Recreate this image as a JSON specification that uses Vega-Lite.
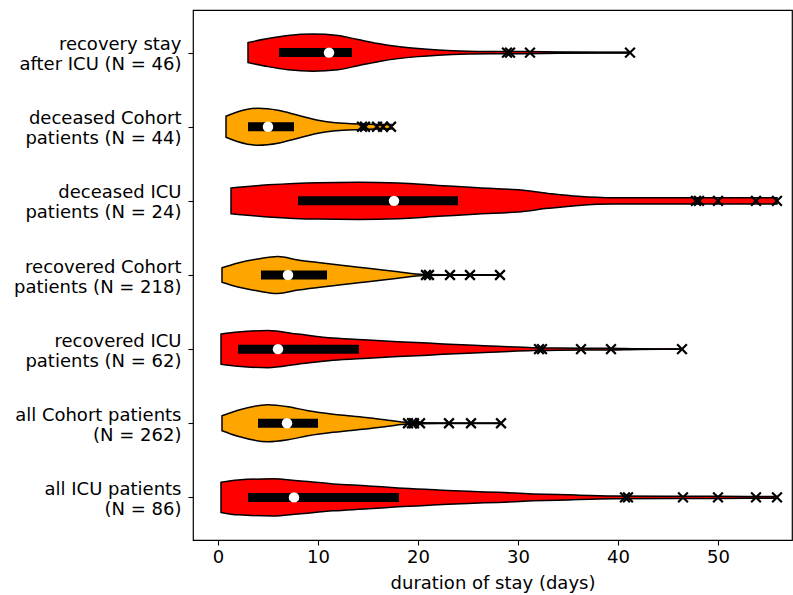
{
  "$schema": "https://vega.github.io/schema/vega-lite/v6.json",
  "width": 599,
  "height": 530,
  "autosize": "none",
  "padding": {"left": 193, "top": 10, "right": 1, "bottom": 55},
  "background": "white",
  "config": {
    "view": {"stroke": "black", "strokeWidth": 1.2},
    "font": "DejaVu Sans",
    "axis": {"labelFont": "DejaVu Sans", "titleFont": "DejaVu Sans", "labelColor": "black", "titleColor": "black", "tickColor": "black", "domain": false, "grid": false, "tickSize": 5, "tickWidth": 1.1, "labelFontSize": 18, "titleFontSize": 18, "titleFontWeight": "normal"}
  },
  "datasets": {
    "violin": [
      {"g": 7, "kind": "ICU", "x": 3.0, "lo": 6.865, "hi": 7.135},
      {"g": 7, "kind": "ICU", "x": 5, "lo": 6.811, "hi": 7.189},
      {"g": 7, "kind": "ICU", "x": 7, "lo": 6.770, "hi": 7.230},
      {"g": 7, "kind": "ICU", "x": 9.5, "lo": 6.75, "hi": 7.25},
      {"g": 7, "kind": "ICU", "x": 12, "lo": 6.770, "hi": 7.230},
      {"g": 7, "kind": "ICU", "x": 14, "lo": 6.824, "hi": 7.176},
      {"g": 7, "kind": "ICU", "x": 16, "lo": 6.878, "hi": 7.122},
      {"g": 7, "kind": "ICU", "x": 18, "lo": 6.919, "hi": 7.081},
      {"g": 7, "kind": "ICU", "x": 20, "lo": 6.946, "hi": 7.054},
      {"g": 7, "kind": "ICU", "x": 22, "lo": 6.965, "hi": 7.035},
      {"g": 7, "kind": "ICU", "x": 25, "lo": 6.980, "hi": 7.020},
      {"g": 7, "kind": "ICU", "x": 28, "lo": 6.984, "hi": 7.016},
      {"g": 7, "kind": "ICU", "x": 31, "lo": 6.986, "hi": 7.014},
      {"g": 7, "kind": "ICU", "x": 34, "lo": 6.992, "hi": 7.008},
      {"g": 7, "kind": "ICU", "x": 38, "lo": 6.995, "hi": 7.005},
      {"g": 7, "kind": "ICU", "x": 41.2, "lo": 6.996, "hi": 7.004},

      {"g": 6, "kind": "Cohort", "x": 0.8, "lo": 5.858, "hi": 6.142},
      {"g": 6, "kind": "Cohort", "x": 2, "lo": 5.797, "hi": 6.203},
      {"g": 6, "kind": "Cohort", "x": 4, "lo": 5.75, "hi": 6.25},
      {"g": 6, "kind": "Cohort", "x": 6, "lo": 5.777, "hi": 6.223},
      {"g": 6, "kind": "Cohort", "x": 8, "lo": 5.845, "hi": 6.155},
      {"g": 6, "kind": "Cohort", "x": 10, "lo": 5.912, "hi": 6.088},
      {"g": 6, "kind": "Cohort", "x": 11.5, "lo": 5.942, "hi": 6.058},
      {"g": 6, "kind": "Cohort", "x": 13, "lo": 5.957, "hi": 6.043},
      {"g": 6, "kind": "Cohort", "x": 15, "lo": 5.965, "hi": 6.035},
      {"g": 6, "kind": "Cohort", "x": 17.3, "lo": 5.969, "hi": 6.031},

      {"g": 5, "kind": "ICU", "x": 1.3, "lo": 4.827, "hi": 5.173},
      {"g": 5, "kind": "ICU", "x": 5, "lo": 4.784, "hi": 5.216},
      {"g": 5, "kind": "ICU", "x": 10, "lo": 4.754, "hi": 5.246},
      {"g": 5, "kind": "ICU", "x": 14, "lo": 4.75, "hi": 5.25},
      {"g": 5, "kind": "ICU", "x": 18, "lo": 4.759, "hi": 5.241},
      {"g": 5, "kind": "ICU", "x": 22, "lo": 4.791, "hi": 5.209},
      {"g": 5, "kind": "ICU", "x": 26, "lo": 4.824, "hi": 5.176},
      {"g": 5, "kind": "ICU", "x": 30, "lo": 4.851, "hi": 5.149},
      {"g": 5, "kind": "ICU", "x": 33, "lo": 4.899, "hi": 5.101},
      {"g": 5, "kind": "ICU", "x": 36, "lo": 4.939, "hi": 5.061},
      {"g": 5, "kind": "ICU", "x": 39.5, "lo": 4.959, "hi": 5.041},
      {"g": 5, "kind": "ICU", "x": 43, "lo": 4.959, "hi": 5.041},
      {"g": 5, "kind": "ICU", "x": 50, "lo": 4.959, "hi": 5.041},
      {"g": 5, "kind": "ICU", "x": 55.9, "lo": 4.959, "hi": 5.041},

      {"g": 4, "kind": "Cohort", "x": 0.4, "lo": 3.903, "hi": 4.097},
      {"g": 4, "kind": "Cohort", "x": 2, "lo": 3.838, "hi": 4.162},
      {"g": 4, "kind": "Cohort", "x": 4, "lo": 3.784, "hi": 4.216},
      {"g": 4, "kind": "Cohort", "x": 6, "lo": 3.75, "hi": 4.25},
      {"g": 4, "kind": "Cohort", "x": 8, "lo": 3.797, "hi": 4.203},
      {"g": 4, "kind": "Cohort", "x": 10, "lo": 3.831, "hi": 4.169},
      {"g": 4, "kind": "Cohort", "x": 11.5, "lo": 3.854, "hi": 4.146},
      {"g": 4, "kind": "Cohort", "x": 13, "lo": 3.878, "hi": 4.122},
      {"g": 4, "kind": "Cohort", "x": 15, "lo": 3.909, "hi": 4.091},
      {"g": 4, "kind": "Cohort", "x": 18, "lo": 3.957, "hi": 4.043},
      {"g": 4, "kind": "Cohort", "x": 20.5, "lo": 3.993, "hi": 4.007},
      {"g": 4, "kind": "Cohort", "x": 24, "lo": 3.996, "hi": 4.004},
      {"g": 4, "kind": "Cohort", "x": 28.2, "lo": 3.997, "hi": 4.003},

      {"g": 3, "kind": "ICU", "x": 0.3, "lo": 2.797, "hi": 3.203},
      {"g": 3, "kind": "ICU", "x": 2, "lo": 2.770, "hi": 3.230},
      {"g": 3, "kind": "ICU", "x": 5, "lo": 2.75, "hi": 3.25},
      {"g": 3, "kind": "ICU", "x": 8, "lo": 2.797, "hi": 3.203},
      {"g": 3, "kind": "ICU", "x": 11.5, "lo": 2.851, "hi": 3.149},
      {"g": 3, "kind": "ICU", "x": 15, "lo": 2.878, "hi": 3.122},
      {"g": 3, "kind": "ICU", "x": 18, "lo": 2.899, "hi": 3.101},
      {"g": 3, "kind": "ICU", "x": 21, "lo": 2.919, "hi": 3.081},
      {"g": 3, "kind": "ICU", "x": 25, "lo": 2.946, "hi": 3.054},
      {"g": 3, "kind": "ICU", "x": 28, "lo": 2.962, "hi": 3.038},
      {"g": 3, "kind": "ICU", "x": 31.5, "lo": 2.980, "hi": 3.020},
      {"g": 3, "kind": "ICU", "x": 34, "lo": 2.986, "hi": 3.014},
      {"g": 3, "kind": "ICU", "x": 39.4, "lo": 2.989, "hi": 3.011},
      {"g": 3, "kind": "ICU", "x": 42, "lo": 2.996, "hi": 3.004},
      {"g": 3, "kind": "ICU", "x": 46.4, "lo": 2.997, "hi": 3.003},

      {"g": 2, "kind": "Cohort", "x": 0.4, "lo": 1.899, "hi": 2.101},
      {"g": 2, "kind": "Cohort", "x": 2, "lo": 1.824, "hi": 2.176},
      {"g": 2, "kind": "Cohort", "x": 5, "lo": 1.75, "hi": 2.25},
      {"g": 2, "kind": "Cohort", "x": 7, "lo": 1.777, "hi": 2.223},
      {"g": 2, "kind": "Cohort", "x": 9, "lo": 1.831, "hi": 2.169},
      {"g": 2, "kind": "Cohort", "x": 11.5, "lo": 1.878, "hi": 2.122},
      {"g": 2, "kind": "Cohort", "x": 13, "lo": 1.899, "hi": 2.101},
      {"g": 2, "kind": "Cohort", "x": 15, "lo": 1.926, "hi": 2.074},
      {"g": 2, "kind": "Cohort", "x": 17, "lo": 1.959, "hi": 2.041},
      {"g": 2, "kind": "Cohort", "x": 18.9, "lo": 1.989, "hi": 2.011},
      {"g": 2, "kind": "Cohort", "x": 22, "lo": 1.995, "hi": 2.005},
      {"g": 2, "kind": "Cohort", "x": 28.3, "lo": 1.996, "hi": 2.004},

      {"g": 1, "kind": "ICU", "x": 0.3, "lo": 0.797, "hi": 1.203},
      {"g": 1, "kind": "ICU", "x": 2, "lo": 0.764, "hi": 1.236},
      {"g": 1, "kind": "ICU", "x": 5.5, "lo": 0.75, "hi": 1.25},
      {"g": 1, "kind": "ICU", "x": 8, "lo": 0.777, "hi": 1.223},
      {"g": 1, "kind": "ICU", "x": 11.5, "lo": 0.818, "hi": 1.182},
      {"g": 1, "kind": "ICU", "x": 15, "lo": 0.845, "hi": 1.155},
      {"g": 1, "kind": "ICU", "x": 18, "lo": 0.872, "hi": 1.128},
      {"g": 1, "kind": "ICU", "x": 22, "lo": 0.899, "hi": 1.101},
      {"g": 1, "kind": "ICU", "x": 25, "lo": 0.919, "hi": 1.081},
      {"g": 1, "kind": "ICU", "x": 28, "lo": 0.932, "hi": 1.068},
      {"g": 1, "kind": "ICU", "x": 31.5, "lo": 0.953, "hi": 1.047},
      {"g": 1, "kind": "ICU", "x": 35, "lo": 0.966, "hi": 1.034},
      {"g": 1, "kind": "ICU", "x": 39.5, "lo": 0.980, "hi": 1.020},
      {"g": 1, "kind": "ICU", "x": 45, "lo": 0.984, "hi": 1.016},
      {"g": 1, "kind": "ICU", "x": 50, "lo": 0.986, "hi": 1.014},
      {"g": 1, "kind": "ICU", "x": 55.9, "lo": 0.989, "hi": 1.011}
    ],
    "stats": [
      {"g": 7, "min": 3.0, "q1": 6.1, "med": 11.1, "q3": 13.4, "max": 41.2},
      {"g": 6, "min": 0.8, "q1": 3.0, "med": 5.0, "q3": 7.6, "max": 17.3},
      {"g": 5, "min": 1.3, "q1": 8.0, "med": 17.6, "q3": 24.0, "max": 55.9},
      {"g": 4, "min": 0.4, "q1": 4.3, "med": 7.0, "q3": 10.9, "max": 28.2},
      {"g": 3, "min": 0.3, "q1": 2.0, "med": 6.0, "q3": 14.1, "max": 46.4},
      {"g": 2, "min": 0.4, "q1": 4.0, "med": 6.9, "q3": 10.0, "max": 28.3},
      {"g": 1, "min": 0.3, "q1": 3.0, "med": 7.6, "q3": 18.1, "max": 55.9}
    ],
    "outliers": [
      {"g": 7, "x": 28.9}, {"g": 7, "x": 29.2}, {"g": 7, "x": 31.2}, {"g": 7, "x": 41.2},
      {"g": 6, "x": 14.4}, {"g": 6, "x": 14.7}, {"g": 6, "x": 15.9}, {"g": 6, "x": 16.5}, {"g": 6, "x": 17.3},
      {"g": 5, "x": 47.8}, {"g": 5, "x": 48.1}, {"g": 5, "x": 50.0}, {"g": 5, "x": 53.8}, {"g": 5, "x": 55.9},
      {"g": 4, "x": 20.8}, {"g": 4, "x": 21.1}, {"g": 4, "x": 23.2}, {"g": 4, "x": 25.2}, {"g": 4, "x": 28.2},
      {"g": 3, "x": 32.1}, {"g": 3, "x": 32.4}, {"g": 3, "x": 36.3}, {"g": 3, "x": 39.3}, {"g": 3, "x": 46.4},
      {"g": 2, "x": 19.0}, {"g": 2, "x": 19.4}, {"g": 2, "x": 19.6}, {"g": 2, "x": 20.2}, {"g": 2, "x": 23.1}, {"g": 2, "x": 25.3}, {"g": 2, "x": 28.3},
      {"g": 1, "x": 40.7}, {"g": 1, "x": 41.0}, {"g": 1, "x": 46.5}, {"g": 1, "x": 50.0}, {"g": 1, "x": 53.8}, {"g": 1, "x": 55.9}
    ]
  },
  "layer": [
    {
      "data": {"name": "stats"},
      "mark": {"type": "rule", "color": "black", "strokeWidth": 1.6},
      "encoding": {
        "x": {"field": "min", "type": "quantitative", "scale": {"domain": [-2.5, 57.4], "nice": false, "zero": false}, "axis": {"values": [0, 10, 20, 30, 40, 50], "title": "duration of stay (days)", "labelPadding": 3, "titlePadding": 8}},
        "x2": {"field": "max"},
        "y": {"field": "g", "type": "quantitative", "scale": {"domain": [0.425, 7.575], "nice": false, "zero": false},
          "axis": {"values": [1, 2, 3, 4, 5, 6, 7], "title": null, "labelPadding": 7, "labelAlign": "right", "labelBaseline": "middle", "labelLineHeight": 20, "labelOffset": -8,
            "labelExpr": "datum.value == 1 ? ['all ICU patients', '(N = 86)'] : datum.value == 2 ? ['all Cohort patients', '(N = 262)'] : datum.value == 3 ? ['recovered ICU', 'patients (N = 62)'] : datum.value == 4 ? ['recovered Cohort', 'patients (N = 218)'] : datum.value == 5 ? ['deceased ICU', 'patients (N = 24)'] : datum.value == 6 ? ['deceased Cohort', 'patients (N = 44)'] : ['recovery stay', 'after ICU (N = 46)']"}}
      }
    },
    {
      "data": {"name": "violin"},
      "mark": {"type": "area", "stroke": "black", "strokeWidth": 1.5, "interpolate": "monotone", "opacity": 1, "fillOpacity": 1},
      "encoding": {
        "x": {"field": "x", "type": "quantitative"},
        "y": {"field": "lo", "type": "quantitative"},
        "y2": {"field": "hi"},
        "detail": {"field": "g"},
        "fill": {"field": "kind", "type": "nominal", "scale": {"domain": ["ICU", "Cohort"], "range": ["#ff0000", "#ffa500"]}, "legend": null}
      }
    },
    {
      "data": {"name": "stats"},
      "mark": {"type": "rule", "color": "black", "strokeWidth": 9, "strokeCap": "butt"},
      "encoding": {
        "x": {"field": "q1", "type": "quantitative"},
        "x2": {"field": "q3"},
        "y": {"field": "g", "type": "quantitative"}
      }
    },
    {
      "data": {"name": "stats"},
      "mark": {"type": "circle", "color": "white", "opacity": 1, "size": 110},
      "encoding": {
        "x": {"field": "med", "type": "quantitative"},
        "y": {"field": "g", "type": "quantitative"}
      }
    },
    {
      "data": {"name": "outliers"},
      "mark": {"type": "point", "shape": "M-1,-1L1,1M-1,1L1,-1", "filled": false, "stroke": "black", "strokeWidth": 2.2, "size": 95, "opacity": 1},
      "encoding": {
        "x": {"field": "x", "type": "quantitative"},
        "y": {"field": "g", "type": "quantitative"}
      }
    }
  ]
}
